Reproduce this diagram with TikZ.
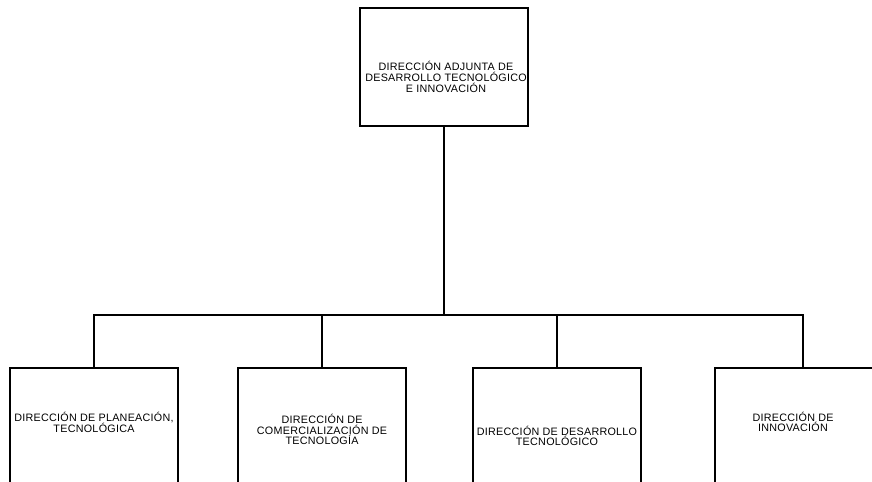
\documentclass[tikz,border=0pt]{standalone}
\usepackage{fontspec}
\newfontfamily\orgfont[LetterSpace=2.5]{Liberation Sans}
\usepackage{tikz}
\usetikzlibrary{calc,positioning}

\begin{document}
\begin{tikzpicture}[x=1bp,y=-1bp,
        caja/.style={draw,line width=2bp,minimum width=168bp,inner sep=0pt},
        rotulo/.style={align=center,inner sep=0pt,font=\orgfont\fontsize{10.8}{10.8}\selectfont}]
        \clip (0,0) rectangle (872,482);
        \node[caja,minimum height=118bp,anchor=north] (dirAdj) at (444,7) {};
        \node[rotulo] (txtAdj) at ($(dirAdj.center)+(2,10)$) {DIRECCIÓN ADJUNTA DE\\DESARROLLO TECNOLÓGICO\\E INNOVACIÓN};
        % direcciones de area
        \node[caja,minimum height=140bp,anchor=north] (dirPlan) at (94,367) {};
        \node[caja,minimum height=140bp,anchor=north] (dirCom) at (322,367) {};
        \node[caja,minimum height=140bp,anchor=north] (dirDes) at (557,367) {};
        \node[caja,minimum height=140bp,minimum width=176bp,anchor=north] (dirInn) at (803,367) {};
        \node[rotulo] (txtPlan) at ($(dirPlan.north)+(0,55.5)$) {DIRECCIÓN DE PLANEACIÓN,\\TECNOLÓGICA};
        \node[rotulo] (txtCom) at ($(dirCom.north)+(0,62.5)$) {DIRECCIÓN DE\\COMERCIALIZACIÓN DE\\TECNOLOGÍA};
        \node[rotulo] (txtDes) at ($(dirDes.north)+(0,69)$) {DIRECCIÓN DE DESARROLLO\\TECNOLÓGICO};
        \node[rotulo] (txtInn) at ($(dirInn.north)+(-10,55)$) {DIRECCIÓN DE\\INNOVACIÓN};
        % conectores
        \coordinate (barra) at (0,315);
        \draw[line width=2bp] (dirAdj.south) -- (dirAdj.south |- barra);
        \draw[line width=2bp] (dirPlan.north) -- (dirPlan.north |- barra) -- (dirInn.north |- barra) -- (dirInn.north);
        \draw[line width=2bp] (dirCom.north) -- (dirCom.north |- barra);
        \draw[line width=2bp] (dirDes.north) -- (dirDes.north |- barra);
      \end{tikzpicture}
\end{document}
